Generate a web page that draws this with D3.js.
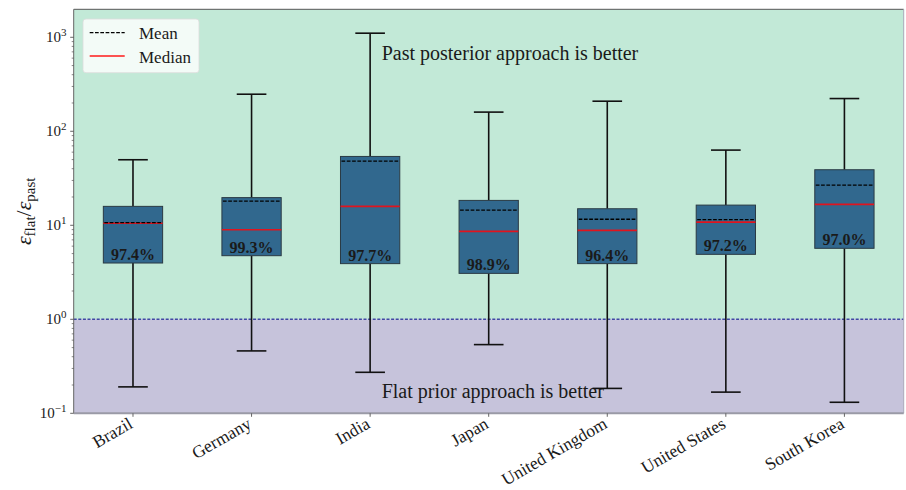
<!DOCTYPE html>
<html>
<head>
<meta charset="utf-8">
<script src="https://cdn.jsdelivr.net/npm/d3@7"></script>
<style>
  html, body { margin: 0; padding: 0; background: #fff; }
  svg { display: block; }
  text { font-family: "Liberation Serif", "Times New Roman", serif; fill: #1a1a1a; }
</style>
</head>
<body>
<svg id="chart" width="906" height="490"></svg>
<script>
// Ratio of flat-prior error to past-posterior error, per country
const countries = ["Brazil", "Germany", "India", "Japan", "United Kingdom", "United States", "South Korea"];
const whiskerLow  = [0.191, 0.461, 0.273, 0.538, 0.184, 0.168, 0.131];
const quartile1   = [3.97, 4.75, 3.91, 3.08, 3.91, 4.91, 5.69];
const medians     = [10.5, 8.98, 15.9, 8.61, 8.83, 10.8, 16.7];
const means       = [10.7, 18.1, 48.2, 14.5, 11.6, 11.5, 26.8];
const quartile3   = [15.9, 19.7, 54.0, 18.4, 15.0, 16.4, 39.0];
const whiskerHigh = [49.8, 248, 1106, 160, 209, 63.1, 223];
const shareBetter = [97.4, 99.3, 97.7, 98.9, 96.4, 97.2, 97.0];
const yTicks = [0.1, 1, 10, 100, 1000];
const yTickExponents = ["\u22121", "0", "1", "2", "3"];
const regionLabels = ["Past posterior approach is better", "Flat prior approach is better"];
const legendLabels = ["Mean", "Median"];

const svg = d3.select("#chart");
const plot = { left: 73.7, right: 903.7, top: 9.3, bottom: 413.3 };

const x = d3.scaleLinear().domain([0.5, countries.length + 0.5]).range([plot.left, plot.right]);
const y = d3.scaleLog().domain([0.1, 1985]).range([plot.bottom, plot.top]);

const boxColor = "#31688e";
const boxW = x(1.25) - x(1);   // half-width of a box (0.5 units wide)
const capW = boxW / 2;

// Background regions split at a ratio of 1
svg.append("rect")
  .attr("x", plot.left).attr("y", plot.top)
  .attr("width", plot.right - plot.left).attr("height", y(1) - plot.top)
  .attr("fill", "#c2e9d7");
svg.append("rect")
  .attr("x", plot.left).attr("y", y(1))
  .attr("width", plot.right - plot.left).attr("height", plot.bottom - y(1))
  .attr("fill", "#c6c3db");
svg.append("line")
  .attr("x1", plot.left).attr("x2", plot.right)
  .attr("y1", y(1)).attr("y2", y(1))
  .attr("stroke", "#4149a3").attr("stroke-width", 1.4)
  .attr("stroke-dasharray", "3,1.6");

// Region captions
svg.append("text").attr("x", 381.7).attr("y", 60)
  .attr("font-size", 20).attr("fill", "#333").text(regionLabels[0]);
svg.append("text").attr("x", 381.7).attr("y", 397.5)
  .attr("font-size", 20).attr("fill", "#333").text(regionLabels[1]);

// Boxes
const groups = svg.append("g").selectAll("g")
  .data(countries.map((c, i) => ({
    c, pos: i + 1, lo: whiskerLow[i], q1: quartile1[i], med: medians[i],
    mean: means[i], q3: quartile3[i], hi: whiskerHigh[i], pct: shareBetter[i]
  })))
  .join("g");

// whiskers
groups.append("line")
  .attr("x1", d => x(d.pos)).attr("x2", d => x(d.pos))
  .attr("y1", d => y(d.q3)).attr("y2", d => y(d.hi))
  .attr("stroke", "#111").attr("stroke-width", 1.6);
groups.append("line")
  .attr("x1", d => x(d.pos)).attr("x2", d => x(d.pos))
  .attr("y1", d => y(d.q1)).attr("y2", d => y(d.lo))
  .attr("stroke", "#111").attr("stroke-width", 1.6);
// caps
groups.append("line")
  .attr("x1", d => x(d.pos) - capW).attr("x2", d => x(d.pos) + capW)
  .attr("y1", d => y(d.hi)).attr("y2", d => y(d.hi))
  .attr("stroke", "#111").attr("stroke-width", 1.6);
groups.append("line")
  .attr("x1", d => x(d.pos) - capW).attr("x2", d => x(d.pos) + capW)
  .attr("y1", d => y(d.lo)).attr("y2", d => y(d.lo))
  .attr("stroke", "#111").attr("stroke-width", 1.6);
// box body
groups.append("rect")
  .attr("x", d => x(d.pos) - boxW).attr("width", 2 * boxW)
  .attr("y", d => y(d.q3)).attr("height", d => y(d.q1) - y(d.q3))
  .attr("fill", boxColor).attr("stroke", "#2a3a44").attr("stroke-width", 1);
// median
groups.append("line")
  .attr("x1", d => x(d.pos) - boxW).attr("x2", d => x(d.pos) + boxW)
  .attr("y1", d => y(d.med)).attr("y2", d => y(d.med))
  .attr("stroke", "#e0141e").attr("stroke-width", 1.6);
// mean
groups.append("line")
  .attr("x1", d => x(d.pos) - boxW + 1).attr("x2", d => x(d.pos) + boxW)
  .attr("y1", d => y(d.mean)).attr("y2", d => y(d.mean))
  .attr("stroke", "#000").attr("stroke-width", 1.3)
  .attr("stroke-dasharray", "3.7,1.6");
// share of runs where the past posterior wins
groups.append("text")
  .attr("x", d => x(d.pos)).attr("y", d => y(d.q1) - 3)
  .attr("text-anchor", "middle").attr("font-size", 16).attr("font-weight", "bold")
  .attr("fill", "#0a0a0a")
  .text(d => d.pct.toFixed(1) + "%");

// Spines
svg.append("line").attr("x1", plot.left).attr("x2", plot.right)
  .attr("y1", plot.top).attr("y2", plot.top).attr("stroke", "#555").attr("stroke-width", 1);
svg.append("line").attr("x1", plot.right).attr("x2", plot.right)
  .attr("y1", plot.top).attr("y2", plot.bottom).attr("stroke", "#aab").attr("stroke-width", 1);
svg.append("line").attr("x1", plot.left).attr("x2", plot.left)
  .attr("y1", plot.top).attr("y2", plot.bottom).attr("stroke", "#666").attr("stroke-width", 1);
svg.append("line").attr("x1", plot.left).attr("x2", plot.right)
  .attr("y1", plot.bottom).attr("y2", plot.bottom).attr("stroke", "#9a9aa6").attr("stroke-width", 2);

// Y axis: major and minor log ticks
const yAxis = svg.append("g");
const minor = [];
for (let e = -1; e <= 3; e++) for (let m = 2; m <= 9; m++) {
  const v = m * Math.pow(10, e);
  if (v <= y.domain()[1]) minor.push(v);
}
yAxis.selectAll("line.minor").data(minor).join("line")
  .attr("x1", plot.left - 2).attr("x2", plot.left)
  .attr("y1", d => y(d)).attr("y2", d => y(d))
  .attr("stroke", "#555").attr("stroke-width", 0.7);
yAxis.selectAll("line.major").data(yTicks).join("line")
  .attr("x1", plot.left - 3.5).attr("x2", plot.left)
  .attr("y1", d => y(d)).attr("y2", d => y(d))
  .attr("stroke", "#555").attr("stroke-width", 0.9);
const yLab = yAxis.selectAll("text").data(yTicks).join("text")
  .attr("x", 66.5).attr("y", d => y(d) + 5)
  .attr("text-anchor", "end").attr("font-size", 15);
yLab.append("tspan").text("10");
yLab.append("tspan").attr("dy", -6).attr("font-size", 11)
  .text((d, i) => yTickExponents[i]);

// Y axis title
const yTitle = svg.append("text")
  .attr("transform", "translate(31," + ((plot.top + plot.bottom) / 2) + ") rotate(-90)")
  .attr("text-anchor", "middle").attr("font-size", 22).attr("fill", "#2a2a2a");
yTitle.append("tspan").attr("font-style", "italic").text("\u03b5");
yTitle.append("tspan").attr("font-size", 15).attr("dy", 4).text("flat");
yTitle.append("tspan").attr("dy", -4).text("/");
yTitle.append("tspan").attr("font-style", "italic").text("\u03b5");
yTitle.append("tspan").attr("font-size", 15).attr("dy", 4).text("past");

// X axis: ticks and rotated country names
const xAxis = svg.append("g");
xAxis.selectAll("line").data(countries).join("line")
  .attr("x1", (d, i) => x(i + 1)).attr("x2", (d, i) => x(i + 1))
  .attr("y1", plot.bottom).attr("y2", plot.bottom + 3.5)
  .attr("stroke", "#555").attr("stroke-width", 0.9);
xAxis.selectAll("text").data(countries).join("text")
  .attr("transform", (d, i) => "translate(" + (x(i + 1) + 1) + ",427) rotate(-30)")
  .attr("text-anchor", "end").attr("font-size", 17.5)
  .attr("fill", "#2a2a2a")
  .text(d => d);

// Legend
const lg = svg.append("g");
lg.append("rect").attr("x", 83).attr("y", 19).attr("width", 116).attr("height", 53.7)
  .attr("rx", 3).attr("fill", "#fff").attr("fill-opacity", 0.8)
  .attr("stroke", "#dcdcdc").attr("stroke-width", 0.8);
lg.append("line").attr("x1", 89.7).attr("x2", 124.7).attr("y1", 32.7).attr("y2", 32.7)
  .attr("stroke", "#000").attr("stroke-width", 1.3).attr("stroke-dasharray", "3.7,1.6");
lg.append("line").attr("x1", 89.7).attr("x2", 124.7).attr("y1", 56).attr("y2", 56)
  .attr("stroke", "#ff1a1a").attr("stroke-width", 1.5);
lg.append("text").attr("x", 139).attr("y", 38.5).attr("font-size", 17).attr("fill", "#333").text(legendLabels[0]);
lg.append("text").attr("x", 139).attr("y", 62.5).attr("font-size", 17).attr("fill", "#333").text(legendLabels[1]);
</script>
</body>
</html>
